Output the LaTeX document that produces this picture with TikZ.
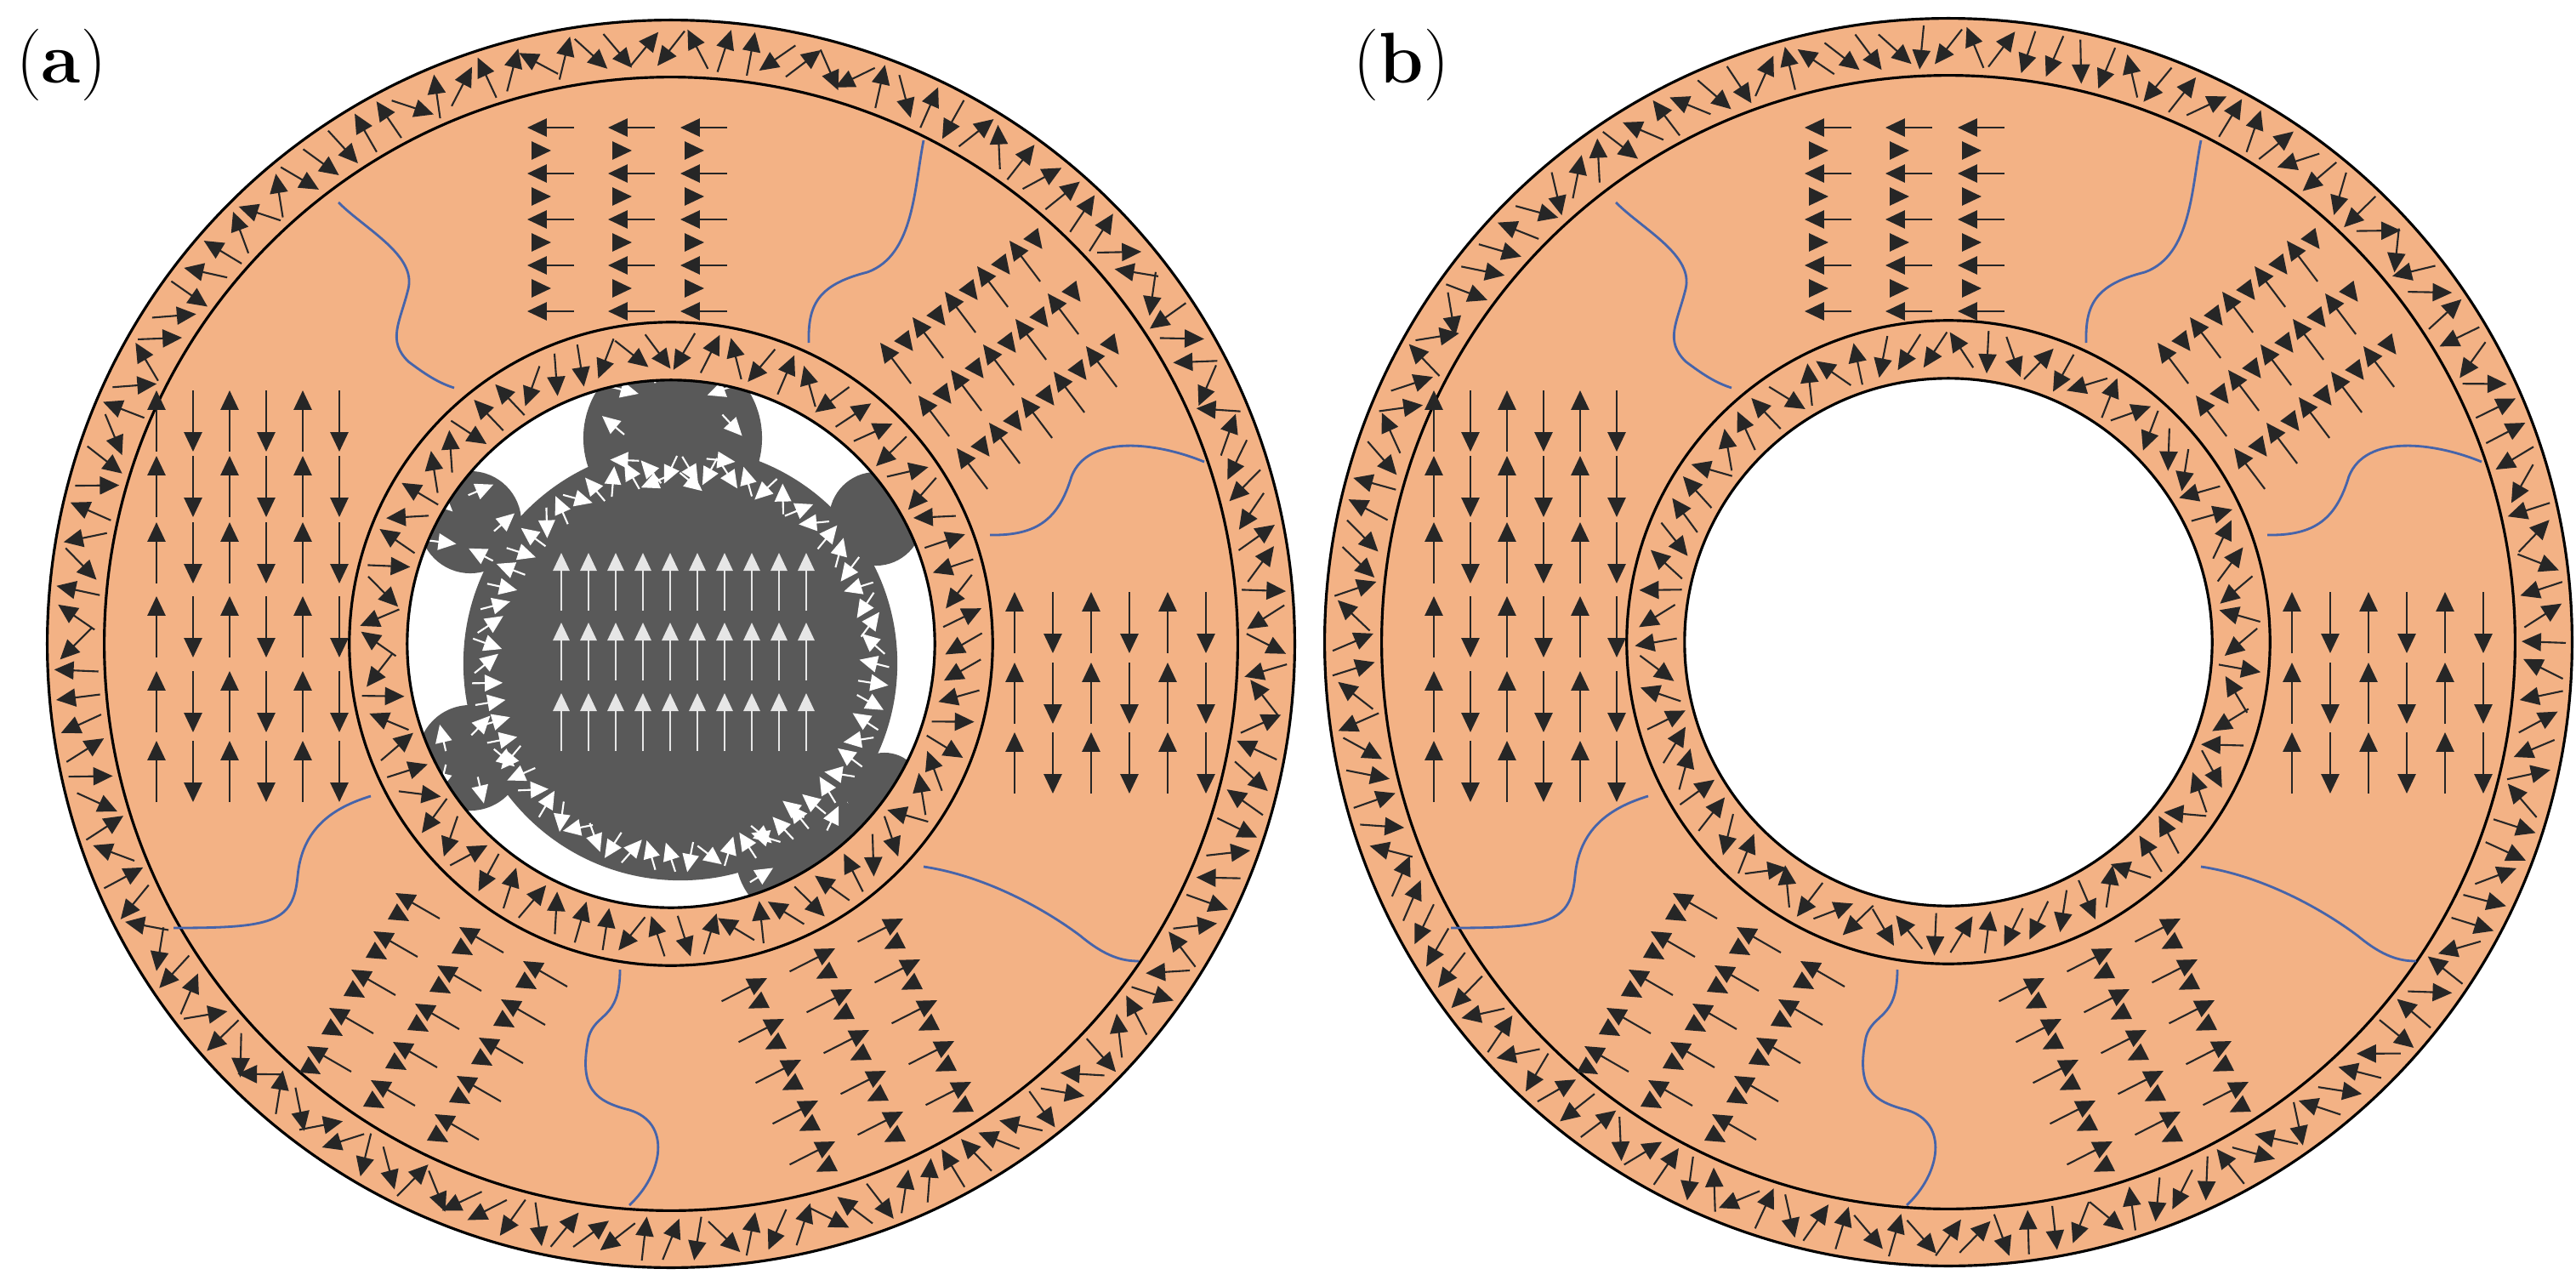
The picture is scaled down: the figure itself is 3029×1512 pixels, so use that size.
\documentclass[tikz,border=0pt]{standalone}
\usetikzlibrary{arrows.meta}
\definecolor{salmon}{RGB}{243,178,133}
\definecolor{core}{RGB}{89,89,89}
\definecolor{wall}{RGB}{70,100,170}
\tikzset{
 arr/.style={-{Triangle[length=6.5pt,width=6pt]}, line width=0.6pt, draw=black!85},
 warr/.style={-{Triangle[length=6pt,width=5.5pt]}, line width=0.6pt, draw=white},
 ring/.style={draw=black, line width=0.9pt},
 dwall/.style={draw=wall, line width=0.8pt}
}
\newcommand\ringarr[6]{\foreach \k in {1,...,#4}{%
 \pgfmathsetmacro\rt{360/#4*\k}\pgfmathsetmacro\rd{-\rt+180*random(0,1)+random(-50,50)}%
 \pgfmathsetmacro\ax{#1+#3*cos(\rt)-#5/2*cos(\rd)}%
 \pgfmathsetmacro\ay{#2+#3*sin(\rt)+#5/2*sin(\rd)}%
 \pgfmathsetmacro\bx{#1+#3*cos(\rt)+#5/2*cos(\rd)}%
 \pgfmathsetmacro\by{#2+#3*sin(\rt)-#5/2*sin(\rd)}%
 \draw[#6] (\ax,\ay) -- (\bx,\by);}}
\newcommand\munit[5]{%
 \pgfmathsetmacro\ax{#1-60*cos(#3)}\pgfmathsetmacro\ay{#2+60*sin(#3)}%
 \draw[arr] (\ax,\ay) -- (#1,#2);
 \pgfmathsetmacro\ax{#1+#4+8*cos(#3)}\pgfmathsetmacro\ay{#2+#5-8*sin(#3)}%
 \pgfmathsetmacro\bx{#1+#4-6*cos(#3)}\pgfmathsetmacro\by{#2+#5+6*sin(#3)}%
 \draw[arr] (\ax,\ay) -- (\bx,\by);}
\newcommand\dgroup[9]{\foreach \j in {0,1,2}{\foreach \i in {0,...,4}{%
 \pgfmathsetmacro\gx{#1+\i*(#3)+\j*(#5)}\pgfmathsetmacro\gy{#2+\i*(#4)+\j*(#6)}%
 \munit{\gx}{\gy}{#7}{#8}{#9}}}}
\newcommand\disc[2]{%
 \fill[salmon] (#1,#2) circle (7.33cm);
 \draw[ring] (#1,#2) circle (7.33cm);
 \draw[ring] (#1,#2) circle (6.66cm);
 \draw[ring] (#1,#2) circle (3.78cm);
 \fill[white] (#1,#2) circle (3.10cm);}
\newcommand\walls[1]{\begin{scope}[xshift=#1*0.01cm]
  \draw[dwall] (398,238) .. controls (430,270) and (490,300) .. (480,340) .. controls (470,380) and (455,400) .. (480,425) .. controls (500,440) and (515,450) .. (534,456);
  \draw[dwall] (1086,165) .. controls (1075,220) and (1075,300) .. (1020,320) .. controls (960,335) and (950,360) .. (951,403);
  \draw[dwall] (1416,543) .. controls (1360,520) and (1280,510) .. (1260,560) .. controls (1245,610) and (1220,630) .. (1164,629);
  \draw[dwall] (1086,1019) .. controls (1160,1030) and (1230,1070) .. (1270,1100) .. controls (1300,1125) and (1320,1130) .. (1339,1130);
  \draw[dwall] (729,1140) .. controls (729,1200) and (700,1190) .. (692,1220) .. controls (680,1280) and (700,1295) .. (740,1305) .. controls (790,1320) and (780,1380) .. (740,1417);
  \draw[dwall] (436,936) .. controls (390,950) and (355,975) .. (350,1030) .. controls (345,1085) and (320,1091) .. (204,1091);
 \end{scope}}
\newcommand\groups[1]{\begin{scope}[xshift=#1*0.01cm]
  \foreach \gxx in {620,715,800}{\foreach \m in {0,...,4}{%
   \pgfmathsetmacro\yy{150+\m*54}
   \draw[arr] (\gxx+55,\yy) -- (\gxx,\yy);
   \ifnum\m<4 \draw[arr] (\gxx+5,\yy+27) -- (\gxx+28,\yy+27);\fi}}
  \foreach \yy in {495,572,650,737,825,907}{\foreach \c in {0,...,5}{%
   \pgfmathsetmacro\xx{184+\c*43}
   \ifodd\c \draw[arr] (\xx,\yy-36) -- (\xx,\yy+36); \else \draw[arr] (\xx,\yy+36) -- (\xx,\yy-36); \fi}}
  \foreach \yy in {732,815,897}{\foreach \c in {0,...,5}{%
   \pgfmathsetmacro\xx{1193+\c*45}
   \ifodd\c \draw[arr] (\xx,\yy-36) -- (\xx,\yy+36); \else \draw[arr] (\xx,\yy+36) -- (\xx,\yy-36); \fi}}
  \dgroup{1187}{283}{-38}{30}{45}{62}{127}{35}{5}
  \dgroup{465}{1050}{-26}{45}{75}{40}{150}{11}{30}
  \dgroup{1062}{1080}{20}{48}{-80}{35}{27}{-17}{33}
 \end{scope}}
\begin{document}
\begin{tikzpicture}[x=0.01cm,y=-0.01cm]
\useasboundingbox (0,0) rectangle (3029,1512);
\fill[white] (0,0) rectangle (3029,1512);
\pgfmathsetseed{11}
\disc{789}{757}
\disc{2291}{755}
\ringarr{789}{757}{700}{140}{52}{arr}
\ringarr{789}{757}{344}{70}{50}{arr}
\ringarr{2291}{755}{700}{140}{52}{arr}
\ringarr{2291}{755}{344}{70}{50}{arr}
\walls{0}
\walls{1502}
\groups{0}
\groups{1502}
\begin{scope}
 \clip (789,757) circle (3.10cm);
 \fill[core] (800,780) circle (2.55cm);
 \fill[core] (791,515) circle (1.05cm);
 \fill[core] (553,614) circle (0.60cm);
 \fill[core] (1030,610) circle (0.55cm);
 \fill[core] (553,891) circle (0.62cm);
 \fill[core] (945,1005) circle (0.80cm);
 \fill[core] (1040,930) circle (0.45cm);
 \ringarr{800}{780}{228}{62}{36}{warr}
 \ringarr{791}{500}{70}{10}{34}{warr}
 \ringarr{553}{614}{40}{5}{32}{warr}
 \ringarr{553}{891}{40}{5}{32}{warr}
 \ringarr{945}{1005}{55}{7}{32}{warr}
 \foreach \i in {0,...,9}{\foreach \yy in {650,732,815}{%
  \draw[warr,draw=white!85!core] (660+\i*32,\yy+68) -- (660+\i*32,\yy);}}
\end{scope}
\draw[ring] (789,757) circle (3.10cm);
\draw[ring] (2291,755) circle (3.10cm);
\node[font=\fontsize{24}{26}\selectfont] (la) at (72,76) {(\textbf{a})};
\node[font=\fontsize{24}{26}\selectfont] (lb) at (1648,76) {(\textbf{b})};
\end{tikzpicture}
\end{document}
